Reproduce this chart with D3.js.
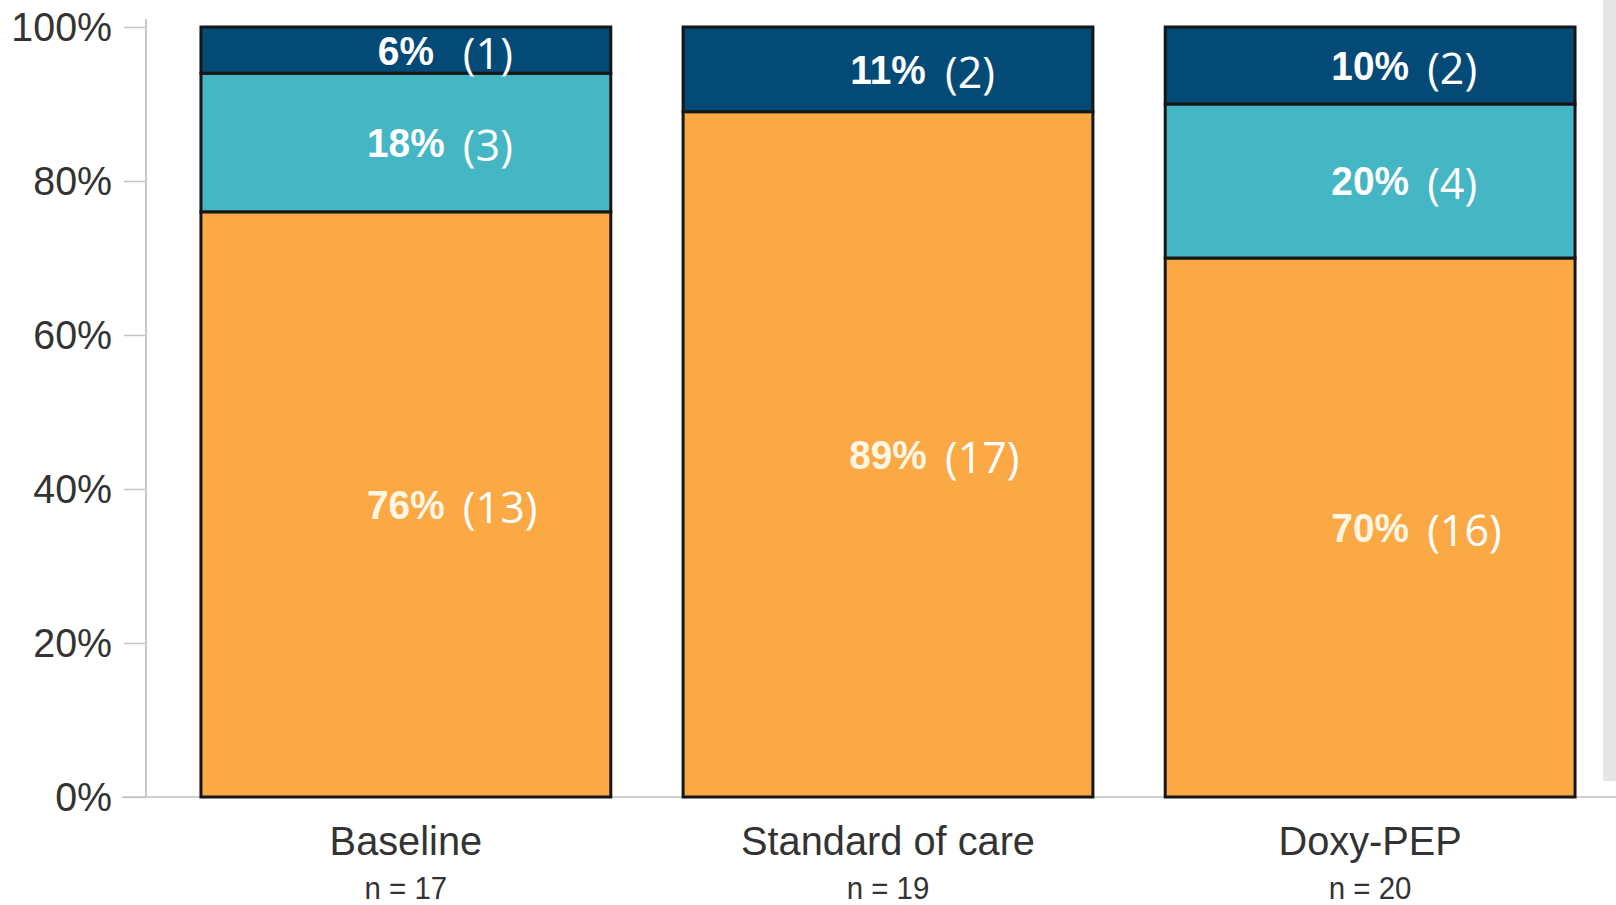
<!DOCTYPE html>
<html>
<head>
<meta charset="utf-8">
<script src="https://cdn.jsdelivr.net/npm/d3@7"></script>
<style>
  html, body { margin: 0; padding: 0; background: #fff; }
  svg { display: block; }
</style>
</head>
<body>
<svg id="chart" width="1616" height="905"></svg>
<script>
// Groups along the x axis and their sample sizes
const categories = ["Baseline", "Standard of care", "Doxy-PEP"];
const sampleSizes = [17, 19, 20];

// Share of each group per outcome (stacked bottom to top)
const orangePct = [76, 89, 70];
const tealPct   = [18, 0, 20];
const navyPct   = [6, 11, 10];

// Participant counts shown in brackets next to each share
const orangeCount = [13, 17, 16];
const tealCount   = [3, 0, 4];
const navyCount   = [1, 2, 2];

// Y axis tick values (fractions)
const yTicks = [0, 0.2, 0.4, 0.6, 0.8, 1.0];

const seriesKeys = ["orange", "teal", "navy"];
const colors = { orange: "#fba945", teal: "#45b6c4", navy: "#044a77" };

const rows = categories.map((c, i) => ({
  category: c,
  n: sampleSizes[i],
  orange: orangePct[i] / 100,
  teal: tealPct[i] / 100,
  navy: navyPct[i] / 100,
  counts: { orange: orangeCount[i], teal: tealCount[i], navy: navyCount[i] },
  pcts: { orange: orangePct[i], teal: tealPct[i], navy: navyPct[i] }
}));

const svg = d3.select("#chart");

// Light grey panel edge on the right side
svg.append("rect")
  .attr("x", 1603).attr("y", 0)
  .attr("width", 13).attr("height", 781)
  .attr("fill", "#e6e6e6");

const axisX = 146;
const y = d3.scaleLinear().domain([0, 1]).range([797, 27]);
const x = d3.scaleBand()
  .domain(categories)
  .range([axisX, 1630])
  .paddingInner(0.15)
  .paddingOuter(0.114);

// Baseline running across the plot
svg.append("line")
  .attr("x1", 122).attr("x2", 1616)
  .attr("y1", y(0)).attr("y2", y(0))
  .attr("stroke", "#cfcfcf").attr("stroke-width", 2);

// Y axis
const yAxis = d3.axisLeft(y)
  .tickValues(yTicks)
  .tickFormat(d3.format(".0%"))
  .tickSize(22)
  .tickPadding(14);

const gy = svg.append("g")
  .attr("transform", `translate(${axisX},0)`)
  .call(yAxis);
gy.select(".domain").remove();
gy.append("line")
  .attr("x1", 0).attr("x2", 0)
  .attr("y1", 19).attr("y2", y(0))
  .attr("stroke", "#c8c8c8").attr("stroke-width", 2);
gy.selectAll(".tick line").attr("stroke", "#c4c4c4").attr("stroke-width", 1.5);
gy.selectAll(".tick text")
  .attr("fill", "#333")
  .attr("font-family", "Liberation Sans, Arial, sans-serif")
  .attr("font-size", 41)
  .attr("dy", "0.34em")
  .each(function () {
    const t = d3.select(this);
    const xPos = +t.attr("x");
    t.attr("x", null)
     .attr("transform", `translate(${xPos + 2},0) scale(0.96,1)`);
  });

// Stacked segments
const stack = d3.stack().keys(seriesKeys);
const layers = stack(rows);

const barG = svg.append("g");
layers.forEach(layer => {
  const key = layer.key;
  layer.forEach((seg, i) => {
    if (seg[1] - seg[0] <= 0) return;
    barG.append("rect")
      .attr("x", x(rows[i].category))
      .attr("y", y(seg[1]))
      .attr("width", x.bandwidth())
      .attr("height", y(seg[0]) - y(seg[1]))
      .attr("fill", colors[key])
      .attr("stroke", "#161616")
      .attr("stroke-width", 3);
  });
});

// Segment labels: share in bold, count in brackets
const labelG = svg.append("g");
layers.forEach(layer => {
  const key = layer.key;
  layer.forEach((seg, i) => {
    if (seg[1] - seg[0] <= 0) return;
    const row = rows[i];
    const cx = x(row.category) + x.bandwidth() / 2;
    const cy = y((seg[0] + seg[1]) / 2);
    labelG.append("text")
      .attr("transform", `translate(${cx},${cy}) scale(0.97,1)`)
      .attr("text-anchor", "middle")
      .attr("dy", "0.36em")
      .attr("font-family", "Liberation Sans, Arial, sans-serif")
      .attr("font-weight", "bold")
      .attr("font-size", 40)
      .attr("fill", key === "orange" ? "#fff6e4" : "#ffffff")
      .text(row.pcts[key] + "%");
    labelG.append("text")
      .attr("x", cx + 57)
      .attr("y", cy + 3)
      .attr("dy", "0.36em")
      .attr("font-family", "Open Sans, sans-serif")
      .attr("font-size", 43)
      .attr("fill", "#ffffff")
      .text("(" + row.counts[key] + ")");
  });
});

// Category labels and sample sizes
const catG = svg.append("g");
rows.forEach(row => {
  const cx = x(row.category) + x.bandwidth() / 2;
  catG.append("text")
    .attr("transform", `translate(${cx},855) scale(0.97,1)`)
    .attr("text-anchor", "middle")
    .attr("font-family", "Liberation Sans, Arial, sans-serif")
    .attr("font-size", 41)
    .attr("fill", "#333")
    .text(row.category);
  catG.append("text")
    .attr("transform", `translate(${cx},899) scale(0.95,1)`)
    .attr("text-anchor", "middle")
    .attr("font-family", "Liberation Sans, Arial, sans-serif")
    .attr("font-size", 31)
    .attr("fill", "#333")
    .text("n = " + row.n);
});
</script>
</body>
</html>
